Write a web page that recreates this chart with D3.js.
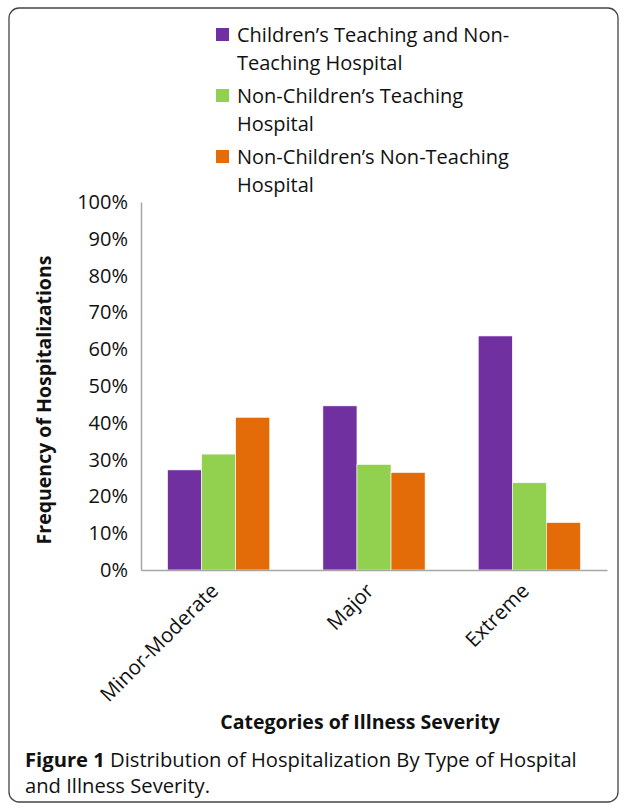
<!DOCTYPE html>
<html>
<head>
<meta charset="utf-8">
<script src="https://cdn.jsdelivr.net/npm/d3@7"></script>
<style>
  body { margin: 0; background: #fff; }
  text { font-family: "Open Sans", sans-serif; fill: #111; }
</style>
</head>
<body>
<div id="viz"></div>
<script>
const width = 625;
const height = 805;
const margin = {top: 202, right: 18, bottom: 235, left: 141};

// data
const categories = ['Minor-Moderate', 'Major', 'Extreme'];
const seriesNames = ['Children\u2019s Teaching and Non-Teaching Hospital',
                     'Non-Children\u2019s Teaching Hospital',
                     'Non-Children\u2019s Non-Teaching Hospital'];
const legendLines = [['Children\u2019s Teaching and Non-', 'Teaching Hospital'],
                     ['Non-Children\u2019s Teaching', 'Hospital'],
                     ['Non-Children\u2019s Non-Teaching', 'Hospital']];
const childrens = [0.272, 0.446, 0.636];
const nonChildTeaching = [0.315, 0.287, 0.237];
const nonChildNonTeaching = [0.415, 0.265, 0.129];
const yTicks = [0, 0.1, 0.2, 0.3, 0.4, 0.5, 0.6, 0.7, 0.8, 0.9, 1];
const colors = ['#7030A0', '#92D050', '#E36C09'];

const seriesValues = [childrens, nonChildTeaching, nonChildNonTeaching];
const rows = categories.map((c, i) => ({
  cat: c,
  vals: seriesNames.map((s, j) => ({key: s, value: seriesValues[j][i], idx: j}))
}));

const svg = d3.select('#viz')
  .append('svg')
    .attr('width', width)
    .attr('height', height);

// frame
svg.append('rect')
  .attr('x', 9).attr('y', 8)
  .attr('width', 609).attr('height', 794)
  .attr('rx', 10)
  .attr('fill', 'none')
  .attr('stroke', '#444')
  .attr('stroke-width', 1.3);

const x0 = d3.scaleBand()
  .domain(categories)
  .range([margin.left, width - margin.right]);

const x1 = d3.scaleBand()
  .domain(seriesNames)
  .range([0, x0.bandwidth()])
  .paddingOuter(0.78);

const yScale = d3.scaleLinear()
  .domain([0, 1])
  .range([height - margin.bottom, margin.top]);

const color = d3.scaleOrdinal().domain(seriesNames).range(colors);

// bars
svg.append('g')
  .selectAll('g')
  .data(rows)
  .join('g')
    .attr('transform', d => `translate(${x0(d.cat)},0)`)
  .selectAll('rect')
  .data(d => d.vals)
  .join('rect')
    .attr('x', d => x1(d.key))
    .attr('y', d => yScale(d.value))
    .attr('width', x1.bandwidth())
    .attr('height', d => yScale(0) - yScale(d.value))
    .attr('fill', d => color(d.key))
    .attr('stroke', '#fff')
    .attr('stroke-width', 0.6);

// y axis
const yAxis = svg.append('g')
  .attr('transform', `translate(${margin.left},0)`)
  .call(d3.axisLeft(yScale).tickValues(yTicks).tickFormat(d3.format('.0%')).tickSize(0).tickPadding(13));
yAxis.select('.domain').attr('stroke', '#a6a6a6').attr('stroke-width', 1.5);
yAxis.selectAll('text')
  .attr('font-size', 20)
  .style('font-family', '"Open Sans", sans-serif')
  .attr('fill', '#111');

// x axis
const xAxis = svg.append('g')
  .attr('transform', `translate(0,${height - margin.bottom})`)
  .call(d3.axisBottom(x0).tickSize(0).tickPadding(0));
xAxis.select('.domain').attr('stroke', '#a6a6a6').attr('stroke-width', 1.5);
xAxis.selectAll('text')
  .attr('font-size', 20.5)
  .style('font-family', '"Open Sans", sans-serif')
  .attr('fill', '#111')
  .attr('text-anchor', 'end')
  .attr('dy', 0)
  .attr('transform', 'translate(1,22) rotate(-45)');

// axis titles
svg.append('text')
  .attr('transform', `translate(51,${(margin.top + height - margin.bottom) / 2 + 14}) rotate(-90)`)
  .attr('text-anchor', 'middle')
  .attr('font-size', 19.5)
  .attr('font-weight', 'bold')
  .text('Frequency of Hospitalizations');

svg.append('text')
  .attr('x', 360)
  .attr('y', 729)
  .attr('text-anchor', 'middle')
  .attr('font-size', 19.5)
  .attr('font-weight', 'bold')
  .text('Categories of Illness Severity');

// legend
const legend = svg.append('g')
  .attr('transform', 'translate(216,28)');
const item = legend.selectAll('g')
  .data(seriesNames)
  .join('g')
    .attr('transform', (d, i) => `translate(0,${i * 61})`);
item.append('rect')
  .attr('width', 13).attr('height', 13)
  .attr('fill', d => color(d));
item.append('text')
  .attr('x', 21)
  .attr('y', 14)
  .attr('font-size', 20)
  .selectAll('tspan')
  .data((d, i) => legendLines[i])
  .join('tspan')
    .attr('x', 21)
    .attr('dy', (d, i) => i === 0 ? 0 : 28)
    .text(d => d);

// caption
const caption = svg.append('text')
  .attr('x', 25)
  .attr('y', 767)
  .attr('font-size', 20.2);
caption.append('tspan').attr('font-weight', 'bold').text('Figure 1');
caption.append('tspan').text(' Distribution of Hospitalization By Type of Hospital');
svg.append('text')
  .attr('x', 25)
  .attr('y', 793)
  .attr('font-size', 20.2)
  .text('and Illness Severity.');
</script>
</body>
</html>
